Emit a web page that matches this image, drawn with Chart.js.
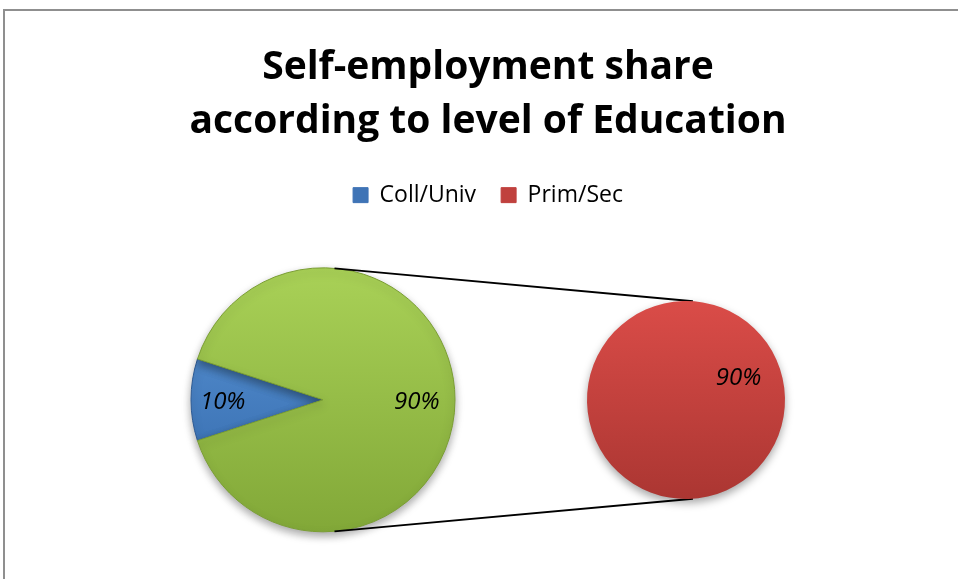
<!DOCTYPE html>
<html lang="en">
<head>
<meta charset="UTF-8">
<title>Self-employment share</title>
<script src="https://cdn.jsdelivr.net/npm/chart.js"></script>
<style>
    html, body { margin: 0; padding: 0; background: #fff; overflow: hidden; }
    #wrap { position: relative; width: 958px; height: 579px; overflow: hidden; }
    #frame { position: absolute; left: 3px; top: 9px; width: 1000px; height: 700px; border: 2px solid #8f8f8f; }
    #wrap canvas { position: absolute; left: 0; top: 0; }
</style>
</head>
<body>
<div id="wrap">
    <div id="frame"></div>
    <canvas id="mainPie" width="958" height="700"></canvas>
    <canvas id="subPie" width="958" height="700"></canvas>
</div>
<script>
    // data
    const titleLines = ['Self-employment share', 'according to level of Education'];
    const mainLabels = ['Coll/Univ', 'Other'];
    const mainValues = [10, 90];
    const subLabels = ['Prim/Sec'];
    const subValues = [90];
    const legendLabels = [mainLabels[0], subLabels[0]];

    const FONT = "'Open Sans'";
    const MAIN_R = 132, SUB_R = 99;
    const mainTotal = mainValues.reduce((a, b) => a + b, 0);

    // top/bottom colours of the bevelled slices
    const mainColors = [['#5c97d8', '#2f64a6'], ['#a9d157', '#82a838']];
    const subColors = [['#da4c48', '#ab3632']];
    const legendColors = ['#3f74b6', '#c0413e'];

    function vGrad(chart, cy, r, pair) {
        const g = chart.ctx.createLinearGradient(0, cy - r, 0, cy + r);
        g.addColorStop(0, pair[0]);
        g.addColorStop(1, pair[1]);
        return g;
    }

    function sliceFill(colors, r) {
        return (c) => {
            const area = c.chart.chartArea;
            if (!area) return colors[c.dataIndex][0];
            const cy = (area.top + area.bottom) / 2;
            return vGrad(c.chart, cy, r, colors[c.dataIndex]);
        };
    }

    // soft drop shadow under the pies
    const pieShadow = {
        id: 'pieShadow',
        beforeDatasetsDraw(chart) {
            const ctx = chart.ctx;
            ctx.save();
            ctx.shadowColor = 'rgba(0,0,0,0.35)';
            ctx.shadowBlur = 9;
            ctx.shadowOffsetY = 4;
        },
        afterDatasetsDraw(chart) {
            chart.ctx.restore();
        }
    };

    // italic percent labels inside slices
    const pctLabels = {
        id: 'pctLabels',
        afterDatasetsDraw(chart, args, opts) {
            const ctx = chart.ctx;
            const meta = chart.getDatasetMeta(0);
            const vals = chart.data.datasets[0].data;
            ctx.save();
            ctx.font = 'italic 24px ' + FONT;
            ctx.fillStyle = '#000';
            ctx.textAlign = 'center';
            ctx.textBaseline = 'middle';
            meta.data.forEach((arc, i) => {
                const a = (arc.startAngle + arc.endAngle) / 2;
                const d = arc.outerRadius * opts.dist[i];
                const txt = Math.round(vals[i] / mainTotal * 100) + '%';
                ctx.fillText(txt, arc.x + Math.cos(a) * d, arc.y + Math.sin(a) * d + 2);
            });
            ctx.restore();
        }
    };

    const mainChart = new Chart(document.getElementById('mainPie'), {
        type: 'pie',
        data: {
            labels: mainLabels,
            datasets: [{
                data: mainValues,
                backgroundColor: sliceFill(mainColors, MAIN_R),
                borderColor: ['#2c5a94', '#7a9e33'],
                borderWidth: 1,
                radius: MAIN_R
            }]
        },
        options: {
            responsive: false,
            animation: false,
            rotation: 252,
            layout: { padding: { left: 18, right: 0, top: 0, bottom: 117 } },
            plugins: {
                title: {
                    display: true,
                    text: titleLines,
                    color: '#000',
                    font: { family: FONT, size: 39, weight: 'bold', lineHeight: 1.38 },
                    padding: { top: 41, bottom: 10 }
                },
                // invisible spacer that pushes the main pie to the left
                subtitle: {
                    display: true,
                    text: ' ',
                    position: 'right',
                    fullSize: false,
                    font: { size: 10, lineHeight: 1.2 },
                    padding: { top: 318, bottom: 0 }
                },
                legend: {
                    display: true,
                    position: 'top',
                    labels: {
                        color: '#000',
                        font: { family: FONT, size: 23 },
                        boxWidth: 15,
                        boxHeight: 15,
                        padding: 25,
                        generateLabels: () => legendLabels.map((t, i) => ({
                            text: t,
                            fillStyle: legendColors[i],
                            strokeStyle: legendColors[i],
                            lineWidth: 1,
                            hidden: false,
                            index: i
                        }))
                    }
                },
                tooltip: { enabled: false },
                pctLabels: { dist: [0.76, 0.71] }
            }
        },
        plugins: [pieShadow, pctLabels]
    });

    // lines joining the main pie to the second pie
    const connectors = {
        id: 'connectors',
        beforeDatasetsDraw(chart, args, opts) {
            const m = mainChart.getDatasetMeta(0).data[0];
            const s = chart.getDatasetMeta(0).data[0];
            const ctx = chart.ctx;
            ctx.save();
            ctx.strokeStyle = '#000';
            ctx.lineWidth = 1.8;
            [-1, 1].forEach(sign => {
                const a1 = sign * opts.mainAngle * Math.PI / 180;
                const a2 = sign * opts.subAngle * Math.PI / 180;
                ctx.beginPath();
                ctx.moveTo(m.x + Math.cos(a1) * m.outerRadius, m.y + Math.sin(a1) * m.outerRadius);
                ctx.lineTo(s.x + Math.cos(a2) * s.outerRadius, s.y + Math.sin(a2) * s.outerRadius);
                ctx.stroke();
            });
            ctx.restore();
        }
    };

    new Chart(document.getElementById('subPie'), {
        type: 'pie',
        data: {
            labels: subLabels,
            datasets: [{
                data: subValues,
                backgroundColor: sliceFill(subColors, SUB_R),
                borderWidth: 0,
                radius: SUB_R
            }]
        },
        options: {
            responsive: false,
            animation: false,
            rotation: -114,
            layout: { padding: { left: 586, right: 172, top: 300, bottom: 200 } },
            plugins: {
                legend: { display: false },
                title: { display: false },
                tooltip: { enabled: false },
                connectors: { mainAngle: 85, subAngle: 86 },
                pctLabels: { dist: [0.58] }
            }
        },
        plugins: [connectors, pieShadow, pctLabels]
    });
</script>
</body>
</html>
